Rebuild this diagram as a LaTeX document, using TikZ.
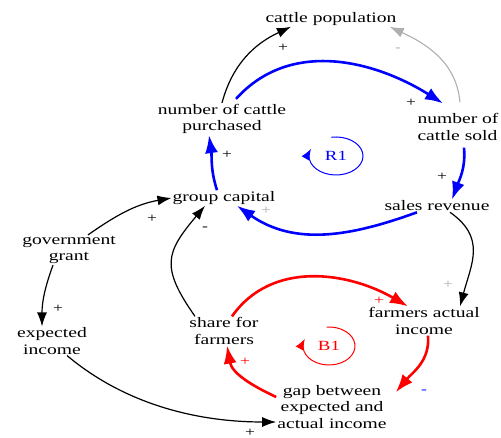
\documentclass[tikz,border=0pt]{standalone}
\usepackage{fontspec}
\setmainfont{Liberation Serif}[FakeStretch=1.35]
\usetikzlibrary{arrows.meta}
\definecolor{linkgrey}{RGB}{175,175,175}

\begin{document}
\begin{tikzpicture}[x=1pt, y=1pt, >=Latex]
    % Define the styles
    \tikzset{
        var/.style = {align=center, inner sep=1pt, font=\fontsize{14.5}{16.5}\selectfont},
        link/.style = {draw, line width=1.2pt, -{Latex[length=14pt, width=10pt]}},
        looplink/.style = {draw, line width=2.6pt, -{Latex[length=18pt, width=13pt]}},
        sign/.style = {inner sep=0pt, font=\fontsize{13}{13}\selectfont},
        loopname/.style = {inner sep=0pt, font=\fontsize{14}{14}\selectfont},
        loopmark/.style = {draw, line width=1pt, -{Latex[length=11pt, width=9pt]}},
    }
    \useasboundingbox (0,0) rectangle (501,438);

    % Nodes placement
    \node [var] (pop) at (331,419) {cattle population};
    \node [var] (bought) at (222,319) {number of cattle\\purchased};
    \node [var, align=left] (sold) at (458,311) {number of\\cattle sold};
    \node [var] (revenue) at (437,232) {sales revenue};
    \node [var] (capital) at (224,240) {group capital};
    \node [var] (grant) at (69,188) {government\\grant};
    \node [var] (expected) at (52,97) {expected\\income};
    \node [var] (share) at (224,107) {share for\\farmers};
    \node [var] (actual) at (424,117) {farmers actual\\income};
    \node [var] (gap) at (332,31) {gap between\\expected and\\actual income};

    % Loop names
    \node [loopname, blue] (r1) at (336,282) {R1};
    \node [loopname, red] (b1) at (329,92) {B1};
    \draw [loopmark, blue] ([shift={(100:27pt and 19pt)}]r1.center) arc[start angle=100, end angle=-202, x radius=27pt, y radius=19pt];
    \draw [loopmark, red] ([shift={(95:26pt and 19pt)}]b1.center) arc[start angle=95, end angle=-202, x radius=26pt, y radius=19pt];

    % Connecting lines
    \draw [link] (bought.north) to[out=75, in=205] ([xshift=-40pt]pop.south);
    \draw [link, linkgrey, line width=1.1pt] ([xshift=2pt, yshift=10pt]sold.north) to[out=95, in=-25] ([xshift=-8pt]pop.south east);
    \draw [looplink, blue] ([xshift=14pt, yshift=4pt]bought.north) to[out=48, in=148] ([xshift=-15pt, yshift=9pt]sold.north);
    \draw [looplink, blue] ([xshift=6pt, yshift=-6pt]sold.south) to[out=-85, in=70] ([xshift=15pt]revenue.north);
    \draw [looplink, blue] ([xshift=-20pt]revenue.south) to[out=200, in=-35] ([xshift=13pt]capital.south);
    \draw [looplink, blue] ([xshift=-7pt]capital.north) to[out=108, in=-82] ([xshift=-13pt]bought.south);
    \draw [link] ([xshift=19pt]grant.north) to[out=35, in=190] (capital.west);
    \draw [link] ([xshift=-16pt]grant.south) to[out=-110, in=90] ([xshift=-10pt]expected.north);
    \draw [link] ([xshift=-29pt]share.north) to[out=125, in=-130, looseness=1.4] ([xshift=-19pt]capital.south);
    \draw [link] ([xshift=13pt]revenue.south) to[out=-35, in=75, looseness=1.2] ([xshift=36pt]actual.north);
    \draw [looplink, red] ([xshift=8pt]share.north) to[out=55, in=150] ([xshift=-16pt]actual.north);
    \draw [looplink, red] ([xshift=4pt]actual.south) to[out=-85, in=50] ([shift={(8pt,-8pt)}]gap.north east);
    \draw [looplink, red] ([yshift=10pt]gap.west) to[out=155, in=-80] ([xshift=3pt]share.south);
    \draw [link] ([xshift=15pt]expected.south) to[out=-40, in=180, looseness=0.9] ([yshift=-15pt]gap.west);

    % Polarity signs
    \node [sign] (s1) at (283,390) {+};
    \node [sign, linkgrey] (s2) at (398,388) {-};
    \node [sign] (s3) at (411,335) {+};
    \node [sign] (s4) at (442,261) {+};
    \node [sign, linkgrey] (s5) at (266,227) {+};
    \node [sign] (s6) at (227,283) {+};
    \node [sign] (s7) at (152,219) {+};
    \node [sign] (s8) at (58,129) {+};
    \node [sign] (s9) at (205,209) {-};
    \node [sign, linkgrey] (s10) at (448,153) {+};
    \node [sign, red] (s11) at (379,137) {+};
    \node [sign, blue] (s12) at (424,46) {-};
    \node [sign, red] (s13) at (245,76) {+};
    \node [sign] (s14) at (250,5) {+};

\end{tikzpicture}
\end{document}
